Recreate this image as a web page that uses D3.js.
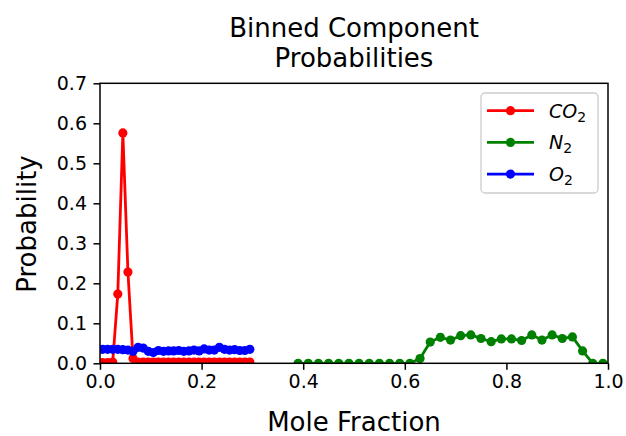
<!DOCTYPE html>
<html><head><meta charset="utf-8">
<script src="https://cdn.jsdelivr.net/npm/d3@7"></script>
<style>body{margin:0;background:#fff;} text{font-family:"DejaVu Sans",sans-serif;}</style>
</head><body><svg id="c" width="626" height="436"></svg>
<script>
const co2X = d3.range(30).map(i => +(0.005 + 0.01 * i).toFixed(3));
const co2Y = [0.002,0.002,0.003,0.173,0.576,0.228,0.012,0.003,0.003,0.003,0.003,0.003,0.003,0.003,0.003,0.003,0.003,0.003,0.003,0.003,0.003,0.003,0.003,0.003,0.003,0.003,0.003,0.003,0.003,0.003];
const o2X = co2X;
const o2Y = [0.035,0.035,0.035,0.035,0.034,0.033,0.030,0.040,0.038,0.030,0.027,0.032,0.030,0.031,0.031,0.032,0.030,0.031,0.033,0.031,0.036,0.033,0.033,0.040,0.035,0.033,0.034,0.032,0.032,0.035];
const n2X = d3.range(31).map(i => +(0.39 + 0.02 * i).toFixed(2));
const n2Y = [0,0,0,0,0,0,0,0,0,0,0,0,0.012,0.053,0.065,0.058,0.069,0.071,0.062,0.054,0.061,0.061,0.057,0.071,0.058,0.071,0.062,0.066,0.031,0,0];
const xTicks = [0.0,0.2,0.4,0.6,0.8,1.0];
const yTicks = [0.0,0.1,0.2,0.3,0.4,0.5,0.6,0.7];
const series = [
  {name:"CO", color:"#ff0000", xs:co2X, ys:co2Y},
  {name:"N", color:"#008000", xs:n2X, ys:n2Y},
  {name:"O", color:"#0000ff", xs:o2X, ys:o2Y}
];

const svg = d3.select("#c");
const L=100, R=608, T=83.3, B=363.3;
const x = d3.scaleLinear().domain([0,1]).range([L,R]);
const y = d3.scaleLinear().domain([0,0.7]).range([B,T]);

const plot = svg.append("g");
plot.append("defs").append("clipPath").attr("id","clip").append("rect")
  .attr("x",L).attr("y",T-10).attr("width",R-L).attr("height",B-T+10);
const data = plot.append("g").attr("clip-path","url(#clip)");
series.forEach(s=>{
  const pts = s.xs.map((v,i)=>[v,s.ys[i]]);
  data.append("path").attr("d", d3.line().x(d=>x(d[0])).y(d=>y(d[1]))(pts))
    .attr("fill","none").attr("stroke",s.color).attr("stroke-width",2.8).attr("stroke-linejoin","round");
  data.selectAll(null).data(pts).enter().append("circle")
    .attr("cx",d=>x(d[0])).attr("cy",d=>y(d[1])).attr("r",4.6).attr("fill",s.color);
});

const xa = svg.append("g").attr("transform",`translate(0,${B})`)
  .call(d3.axisBottom(x).tickValues(xTicks).tickFormat(d3.format(".1f")).tickSize(6.5).tickSizeOuter(0));
const ya = svg.append("g").attr("transform",`translate(${L},0)`)
  .call(d3.axisLeft(y).tickValues(yTicks).tickFormat(d3.format(".1f")).tickSize(6.5).tickSizeOuter(0));
[xa,ya].forEach(a=>{
  a.select(".domain").remove();
  a.selectAll(".tick line").attr("stroke","#000").attr("stroke-width",1.5);
  a.selectAll(".tick text").attr("font-size",19).attr("fill","#000").attr("font-family","DejaVu Sans");
});
xa.selectAll(".tick text").attr("dy","0.72em").attr("y",11);
ya.selectAll(".tick text").attr("x",-13).attr("dy","0.35em");

svg.append("rect").attr("x",L).attr("y",T).attr("width",R-L).attr("height",B-T)
  .attr("fill","none").attr("stroke","#000").attr("stroke-width",1.5);

svg.append("text").attr("x",354).attr("y",37).attr("text-anchor","middle").attr("font-size",26).text("Binned Component");
svg.append("text").attr("x",354).attr("y",67).attr("text-anchor","middle").attr("font-size",26).text("Probabilities");
svg.append("text").attr("x",354).attr("y",431).attr("text-anchor","middle").attr("font-size",26).text("Mole Fraction");
svg.append("text").attr("transform","translate(36,224) rotate(-90)").attr("text-anchor","middle").attr("font-size",26).text("Probability");

const lg = svg.append("g");
lg.append("rect").attr("x",481).attr("y",93).attr("width",117).attr("height",100).attr("rx",4)
  .attr("fill","#fff").attr("fill-opacity",0.8).attr("stroke","#cccccc").attr("stroke-width",1.3);
series.forEach((s,i)=>{
  const yy = 110.7 + i*31.7;
  lg.append("line").attr("x1",487).attr("x2",534).attr("y1",yy).attr("y2",yy).attr("stroke",s.color).attr("stroke-width",2.8);
  lg.append("circle").attr("cx",510.5).attr("cy",yy).attr("r",4.6).attr("fill",s.color);
  const t = lg.append("text").attr("x",549).attr("y",yy+7).attr("font-size",19).attr("font-style","italic");
  t.append("tspan").text(s.name);
  t.append("tspan").attr("font-size",14).attr("font-style","normal").attr("dy",4).text("2");
});
</script></body></html>
